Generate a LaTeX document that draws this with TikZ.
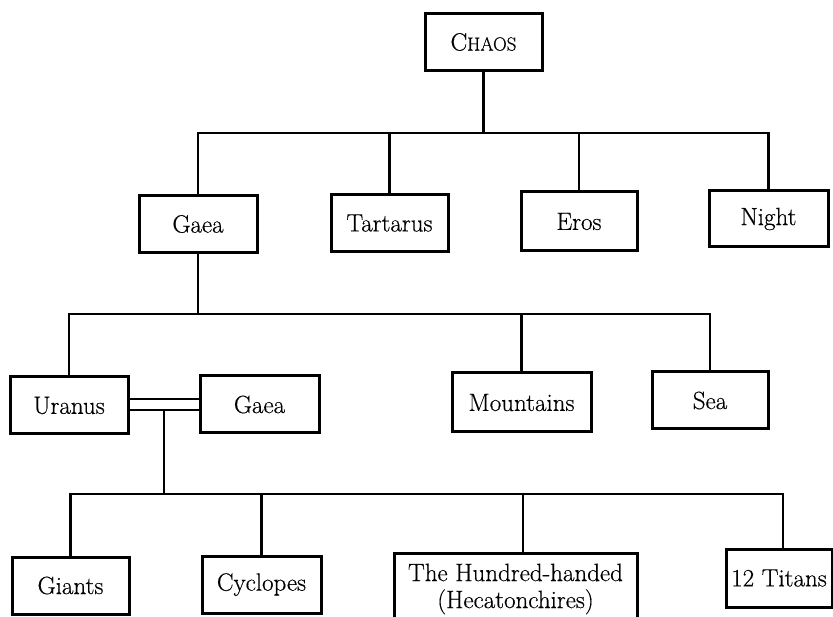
\documentclass[tikz,border=0pt]{standalone}
\usepackage{fontspec}
\setmainfont{Latin Modern Roman}[FakeBold=0.45]
\newcommand{\capsword}[2]{#1{\fontsize{19}{22}\selectfont #2}}
\begin{document}
\begin{tikzpicture}[x=1pt,y=-1pt,
  box/.style={draw, line width=3pt, minimum width=#1, minimum height=57pt,
    inner sep=0pt, align=center, font=\fontsize{25}{27}\selectfont},
  box/.default=117pt,
  wire/.style={line width=2.5pt, line cap=rect}]
\useasboundingbox (0,0) rectangle (833,617);

% first generation
\node[box] (chaos) at (483.5,42) {\capsword{C}{HAOS}};
\node[box=118pt] (gaeaA) at (198,224) {Gaea};
\node[box] (tartarus) at (389.5,223) {Tartarus};
\node[box=116pt, minimum height=59pt] (eros) at (579,221.5) {Eros};
\node[box=119pt, minimum height=56pt] (night) at (768.5,219) {Night};

% children of Gaea
\node[box=118pt] (uranus) at (69,405.5) {Uranus};
\node[box=119pt] (gaeaB) at (259.5,404.5) {Gaea};
\node[box=139pt, minimum height=59pt] (mountains) at (521.5,402.5) {Mountains};
\node[box=116pt] (sea) at (710,400.5) {Sea};

% children of Uranus and Gaea
\node[box] (giants) at (70.5,585.5) {Giants};
\node[box=119pt] (cyclopes) at (261.5,584.5) {Cyclopes};
\node[box=243pt, minimum height=72pt] (hundred) at (515.5,589) {The Hundred-handed\\(Hecatonchires)};
\node[box=106pt, minimum height=58pt] (titans) at (779,578) {12 Titans};

% Chaos -> first generation
\coordinate (j1) at (483.5,133);
\draw[wire] (chaos.south) -- (j1);
\draw[wire] (gaeaA.north) |- (j1) -| (night.north);
\draw[wire] (tartarus.north) -- (tartarus.north |- j1);
\draw[wire] (eros.north) -- (eros.north |- j1);

% Gaea -> her children
\coordinate (j2) at (198,314);
\draw[wire] (gaeaA.south) -- (j2);
\draw[wire] (uranus.north) |- (j2) -| (sea.north);
\draw[wire] (mountains.north) -- (mountains.north |- j2);

% marriage of Uranus and Gaea
\draw[wire] ([yshift=6.5pt]uranus.east) -- ([yshift=6.5pt]uranus.east -| gaeaB.west);
\draw[wire] ([yshift=-4.5pt]uranus.east) -- ([yshift=-4.5pt]uranus.east -| gaeaB.west);

% their offspring
\coordinate (m) at (164,410);
\coordinate (j3) at (164,494);
\coordinate (jh) at (523,494);
\coordinate (jt) at (783,494);
\draw[wire] (m) -- (j3);
\draw[wire] (giants.north) |- (jt) -- (jt |- titans.north);
\draw[wire] (cyclopes.north) -- (cyclopes.north |- j3);
\draw[wire] (jh) -- (jh |- hundred.north);
\end{tikzpicture}
\end{document}
